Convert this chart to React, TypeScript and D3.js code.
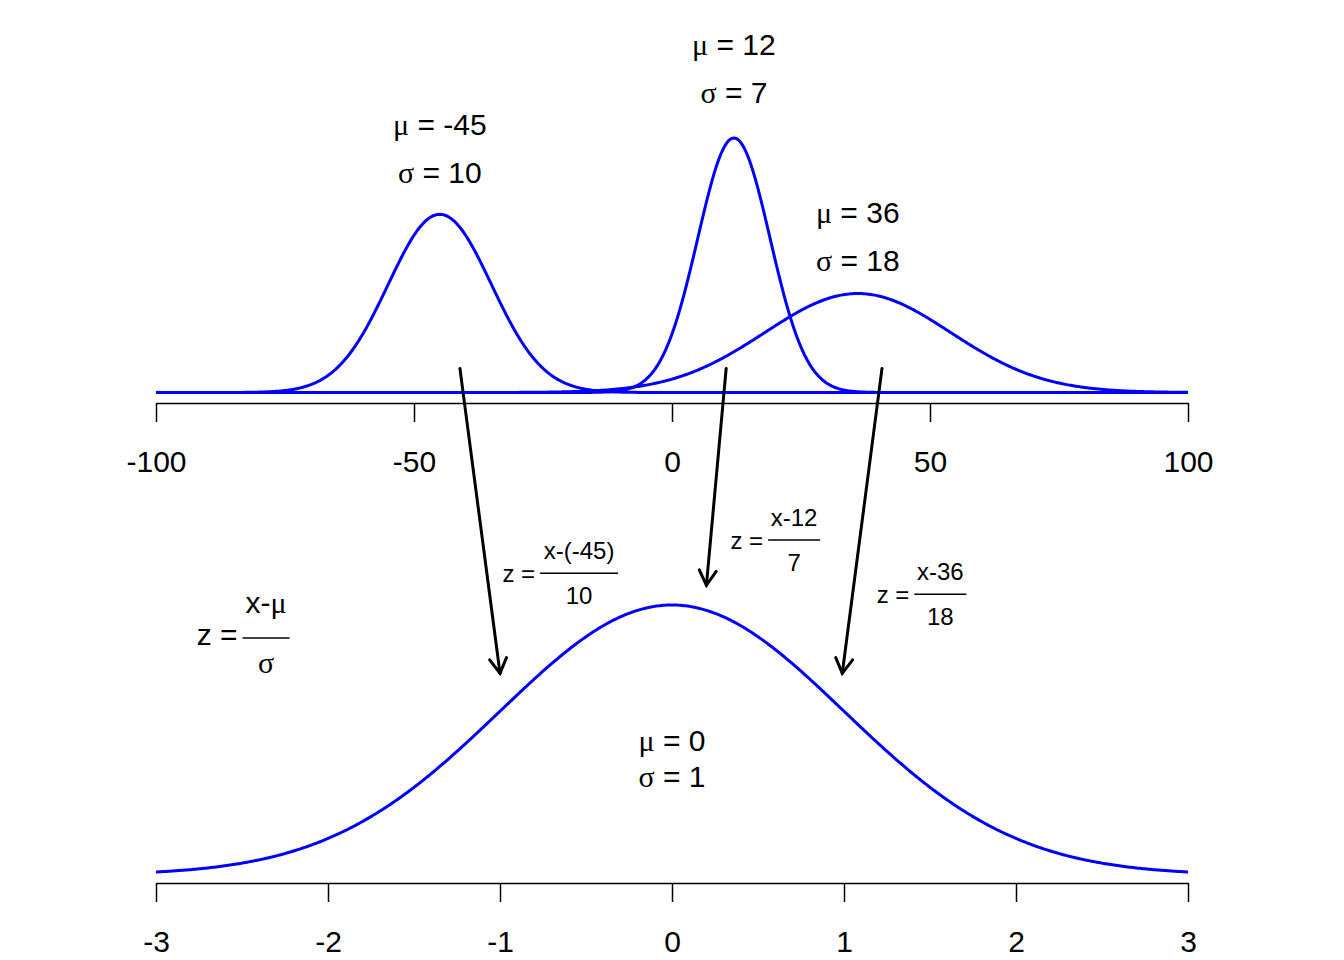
import React, { useEffect, useRef } from "react";
import * as d3 from "d3";

// distributions shown in the top panel, and the standard normal below
const muTop = [-45, 12, 36];
const sigmaTop = [10, 7, 18];
const muStd = 0;
const sigmaStd = 1;

const topTicks = [-100, -50, 0, 50, 100];
const stdTicks = [-3, -2, -1, 0, 1, 2, 3];

// arrows: start in top panel (x, density), end in bottom panel (z, density)
const arrowFromX = [-41.1, 10.5, 40.7];
const arrowFromD = [0.0054, 0.0054, 0.0054];
const arrowToZ = [-1.0, 0.2, 0.99];
const arrowToD = [0.298, 0.428, 0.298];

// formula text for each transform
const fracNumer = ["x-(-45)", "x-12", "x-36"];
const fracDenom = ["10", "7", "18"];

const W = 1344;
const H = 960;
const SANS = "'Liberation Sans', Arial, sans-serif";
const SERIF = "'Liberation Serif', 'Times New Roman', serif";
const BLUE = "#0000ff";

const dnorm = (x: number, m: number, s: number) =>
  Math.exp(-0.5 * ((x - m) / s) ** 2) / (s * Math.sqrt(2 * Math.PI));

const App = () => {
  const topAxisRef = useRef<SVGGElement>(null);
  const botAxisRef = useRef<SVGGElement>(null);

  const xTop = d3.scaleLinear().domain([-100, 100]).range([156, 1188]);
  const yTop = d3.scaleLinear().domain([0, dnorm(12, 12, 7)]).range([392.5, 138]);
  const xStd = d3.scaleLinear().domain([-3, 3]).range([156, 1188]);
  const yStd = d3.scaleLinear().domain([0, dnorm(0, 0, 1)]).range([875, 605]);

  useEffect(() => {
    const style = (g: d3.Selection<SVGGElement, unknown, null, undefined>) => {
      g.attr("font-family", SANS).attr("font-size", 30);
      g.selectAll("text").attr("fill", "#000");
      g.selectAll("line").attr("stroke", "#000").attr("stroke-width", 1.5);
      g.select(".domain").attr("stroke", "#000").attr("stroke-width", 1.5);
    };
    const ta = d3.select(topAxisRef.current!);
    ta.selectAll("*").remove();
    ta.call(
      d3.axisBottom(xTop).tickValues(topTicks).tickSize(19).tickSizeOuter(0)
        .tickPadding(29).tickFormat((d) => String(d))
    );
    style(ta);
    const ba = d3.select(botAxisRef.current!);
    ba.selectAll("*").remove();
    ba.call(
      d3.axisBottom(xStd).tickValues(stdTicks).tickSize(19).tickSizeOuter(0)
        .tickPadding(29).tickFormat((d) => String(d))
    );
    style(ba);
  });

  const topGrid = d3.range(-100, 100.01, 0.25);
  const stdGrid = d3.range(-3, 3.001, 0.01);

  const lineTop = (m: number, s: number) =>
    d3.line<number>().x((v) => xTop(v)).y((v) => yTop(dnorm(v, m, s)))(topGrid) || "";
  const lineStd = d3.line<number>()
    .x((v) => xStd(v))
    .y((v) => yStd(dnorm(v, muStd, sigmaStd)))(stdGrid) || "";

  // label offsets (density units) above the curves: [mu line, sigma line]
  const labelMuD = [0.0601, 0.0779, 0.0404];
  const labelSigD = [0.0493, 0.0673, 0.0296];

  const greek = (sym: string, rest: string) => (
    <>
      <tspan fontFamily={SERIF}>{sym}</tspan>
      <tspan>{" = " + rest}</tspan>
    </>
  );

  // fraction layout in bottom-panel coords (z, density), line width in px
  const fracPos = [
    { z: -0.54, d: 0.446, w: 78 },
    { z: 0.71, d: 0.495, w: 52 },
    { z: 1.56, d: 0.415, w: 52 },
  ];

  const fraction = (
    cx: number, ly: number, w: number, num: React.ReactNode, den: React.ReactNode,
    fs: number, numGap: number, denGap: number, zGap: number, key: string
  ) => (
    <g key={key} fontFamily={SANS} fontSize={fs} fill="#000">
      <line x1={cx - w / 2} x2={cx + w / 2} y1={ly} y2={ly} stroke="#000" strokeWidth={1.5} />
      <text x={cx} y={ly - numGap} textAnchor="middle">{num}</text>
      <text x={cx} y={ly + denGap} textAnchor="middle">{den}</text>
      <text x={cx - w / 2 - 5} y={ly + zGap} textAnchor="end">z =</text>
    </g>
  );

  const arrow = (i: number) => {
    const x1 = xTop(arrowFromX[i]);
    const y1 = yTop(arrowFromD[i]);
    const x2 = xStd(arrowToZ[i]);
    const y2 = yStd(arrowToD[i]);
    const ang = Math.atan2(y2 - y1, x2 - x1);
    const len = 17;
    const spread = Math.PI / 6;
    const a1 = ang + Math.PI - spread;
    const a2 = ang + Math.PI + spread;
    return (
      <g key={"arrow" + i} stroke="#000" strokeWidth={3} fill="none" strokeLinecap="round">
        <line x1={x1} y1={y1} x2={x2} y2={y2} />
        <path
          d={`M${x2 + len * Math.cos(a1)},${y2 + len * Math.sin(a1)}L${x2},${y2}L${x2 + len * Math.cos(a2)},${y2 + len * Math.sin(a2)}`}
          strokeLinejoin="miter"
        />
      </g>
    );
  };

  return (
    <svg width={W} height={H} style={{ position: "absolute", left: 0, top: 0, background: "#fff" }}>
      <rect width={W} height={H} fill="#fff" />
      {muTop.map((m, i) => (
        <path key={"c" + i} d={lineTop(m, sigmaTop[i])} fill="none" stroke={BLUE} strokeWidth={3} />
      ))}
      <g ref={topAxisRef} transform="translate(0,403)" />
      {muTop.map((m, i) => (
        <g key={"lab" + i} fontFamily={SANS} fontSize={30} textAnchor="middle" fill="#000">
          <text x={xTop(m)} y={yTop(labelMuD[i])} dy="0.36em">{greek("\u03bc", String(m))}</text>
          <text x={xTop(m)} y={yTop(labelSigD[i])} dy="0.36em">{greek("\u03c3", String(sigmaTop[i]))}</text>
        </g>
      ))}

      <path d={lineStd} fill="none" stroke={BLUE} strokeWidth={3} />
      <g ref={botAxisRef} transform="translate(0,883)" />
      <g fontFamily={SANS} fontSize={30} textAnchor="middle" fill="#000">
        <text x={xStd(muStd)} y={yStd(0.1994)} dy="0.36em">{greek("\u03bc", String(muStd))}</text>
        <text x={xStd(muStd)} y={yStd(0.146)} dy="0.36em">{greek("\u03c3", String(sigmaStd))}</text>
      </g>

      {fracPos.map((p, i) =>
        fraction(xStd(p.z), yStd(p.d), p.w, fracNumer[i], fracDenom[i], 24, 14, 31, 9, "f" + i)
      )}
      {fraction(
        xStd(-2.36), yStd(0.35), 47,
        <>x-<tspan fontFamily={SERIF}>{"\u03bc"}</tspan></>,
        <tspan fontFamily={SERIF}>{"\u03c3"}</tspan>,
        30, 25, 35, 7, "big"
      )}

      {muTop.map((_, i) => arrow(i))}
    </svg>
  );
};

export default App;
